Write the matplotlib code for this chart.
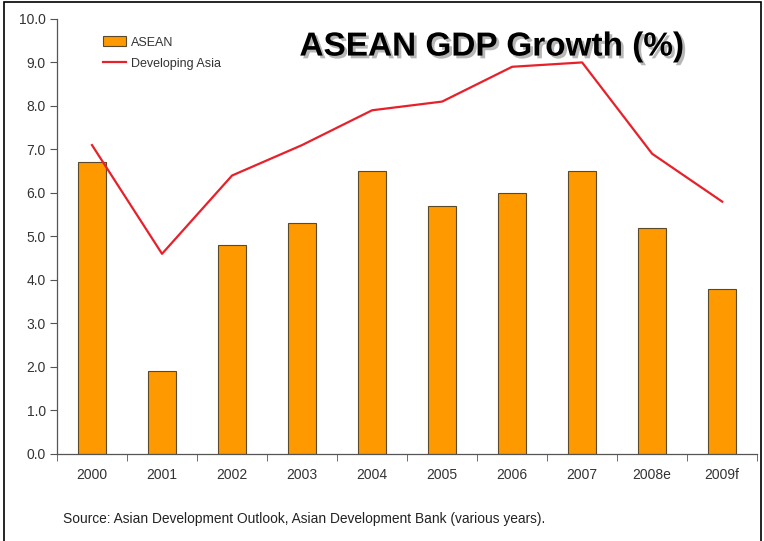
import matplotlib
matplotlib.use("Agg")
import matplotlib.pyplot as plt
import matplotlib.patheffects as pe
from matplotlib.patches import Rectangle
import numpy as np

categories = ["2000", "2001", "2002", "2003", "2004", "2005", "2006", "2007", "2008e", "2009f"]
asean = [6.7, 1.9, 4.8, 5.3, 6.5, 5.7, 6.0, 6.5, 5.2, 3.8]
developing_asia = [7.1, 4.6, 6.4, 7.1, 7.9, 8.1, 8.9, 9.0, 6.9, 5.8]
yticks = [0.0, 1.0, 2.0, 3.0, 4.0, 5.0, 6.0, 7.0, 8.0, 9.0, 10.0]

plt.rcParams['font.family'] = ['Liberation Sans', 'DejaVu Sans']

fig = plt.figure(figsize=(7.64, 5.41), dpi=100)
ax = fig.add_axes([0.0746, 0.161, 0.9165, 0.804])

x = np.arange(len(categories))
bars = ax.bar(x, asean, width=0.4, color="#FF9900", edgecolor="#5a4a2a", linewidth=0.8,
              label="ASEAN", zorder=2)
line, = ax.plot(x, developing_asia, color="#E8202A", linewidth=1.6, label="Developing Asia", zorder=3)

ax.set_xlim(-0.5, len(categories) - 0.5)
ax.set_ylim(0, 10)
ax.set_yticks(yticks)
ax.set_yticklabels([f"{v:.1f}" for v in yticks], fontsize=10, color="#333333")
ax.set_xticks(x)
ax.set_xticklabels(categories, fontsize=10, color="#333333")
ax.tick_params(axis='x', which='major', length=0, pad=10)
ax.set_xticks(np.arange(-0.5, len(categories)), minor=True)
ax.tick_params(axis='x', which='minor', length=5, direction='out', color="#555555")
ax.tick_params(axis='y', length=5, direction='out', color="#555555", pad=3)
for s in ['top', 'right']:
    ax.spines[s].set_visible(False)
for s in ['left', 'bottom']:
    ax.spines[s].set_color("#555555")
    ax.spines[s].set_linewidth(0.9)

leg = fig.legend([bars, line], ["ASEAN", "Developing Asia"], loc='upper left',
                 bbox_to_anchor=(0.1348, 0.933), bbox_transform=fig.transFigure,
                 frameon=False, fontsize=9, handlelength=1.84, handleheight=0.85,
                 handletextpad=0.4, labelspacing=0.7, borderpad=0, borderaxespad=0)
for t in leg.get_texts():
    t.set_color("#333333")

fig.text(0.644, 0.913, "ASEAN GDP Growth (%)", ha='center', va='center',
         fontsize=24, fontweight='bold',
         path_effects=[pe.withSimplePatchShadow(offset=(2, -2), shadow_rgbFace='#888888', alpha=0.6)])

fig.text(0.083, 0.041, "Source: Asian Development Outlook, Asian Development Bank (various years).",
         ha='left', va='center', fontsize=9.9, color="#222222")

fig.patches.append(Rectangle((0.005, -0.01), 0.991, 1.006, transform=fig.transFigure,
                             fill=False, edgecolor='black', linewidth=1.2))

fig.savefig("out.png", dpi=100)
